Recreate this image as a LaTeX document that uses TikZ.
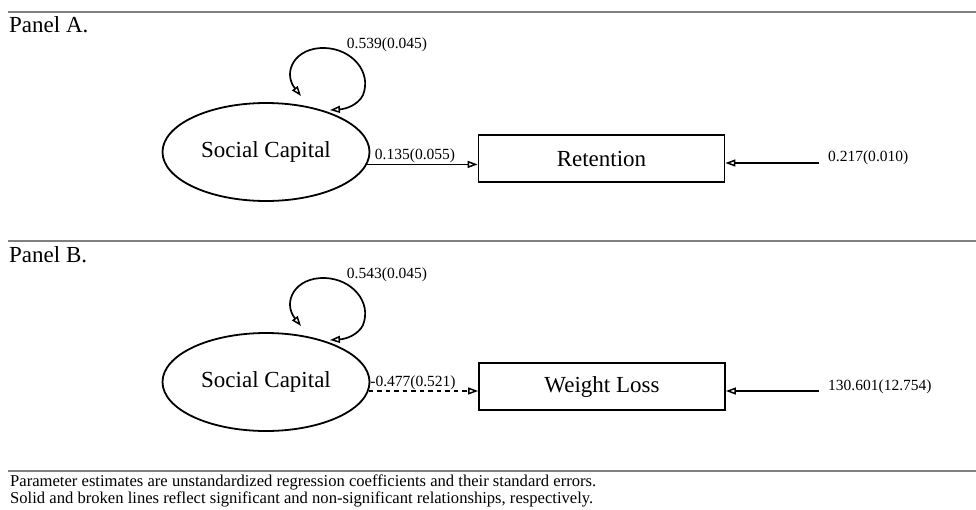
\documentclass[tikz,border=0pt]{standalone}
\usepackage{fontspec}
\setmainfont{Liberation Serif}
\usetikzlibrary{arrows.meta,shapes.geometric}
\begin{document}
\begin{tikzpicture}[x=1pt,y=-1pt,
  lat/.style={draw, line width=1.8pt, ellipse, minimum width=207pt, minimum height=98pt, inner sep=0pt, font=\fontsize{23}{27}\selectfont},
  obs/.style={draw, line width=1.8pt, rectangle, minimum width=246pt, minimum height=47pt, inner sep=0pt, font=\fontsize{23}{27}\selectfont},
  tip/.style={},
  conn/.style={line width=1.7pt, -{Triangle[open, length=10pt, width=7pt, line width=1.5pt]}},
  loopc/.style={line width=1.7pt, {Triangle[open, length=10pt, width=7pt, line width=1.5pt]}-{Triangle[open, length=10pt, width=7pt, line width=1.5pt]}},
  lbl/.style={inner sep=0pt, font=\fontsize{15.5}{18}\selectfont},
  pnl/.style={inner sep=0pt, anchor=west, font=\fontsize{23}{27}\selectfont},
  sep/.style={draw=black!50, line width=2pt},
  note/.style={inner sep=0pt, anchor=west, font=\fontsize{16.6}{19}\selectfont}
]
\useasboundingbox (0,0) rectangle (976,509);
% ---------- Panel A ----------
\coordinate (sepA1) at (8,12); \coordinate (sepA2) at (976,12);
\draw[sep] (sepA1) -- (sepA2);
\node[pnl] (pA) at (9,25) {Panel A.};
\node[lat] (scA) at (266,152) {Social Capital};
\node[obs] (rt) at (601.5,158.5) {Retention};
\coordinate (lA1) at (301,96);
\coordinate (lA2) at (330,110);
\draw[loopc] (lA1) .. controls (282,72) and (295,47) .. (325,48) .. controls (352,49) and (372,72) .. (363,95) .. controls (358,105) and (346,109) .. (lA2);
\node[lbl] (vA) at (387,45) {0.539(0.045)};
\draw[conn] (scA.-7) -- (scA.-7 -| rt.west);
\node[lbl] (bA) at (415,156) {0.135(0.055)};
\coordinate (eA) at (819,163);
\draw[conn] (eA) -- (eA -| rt.east);
\node[lbl, anchor=west] (eAl) at (828,158) {0.217(0.010)};
% ---------- Panel B ----------
\coordinate (sepB1) at (8,241); \coordinate (sepB2) at (976,241);
\draw[sep] (sepB1) -- (sepB2);
\node[pnl] (pB) at (9,255) {Panel B.};
\node[lat] (scB) at (266,382) {Social Capital};
\node[obs] (wl) at (602,386.5) {Weight Loss};
\coordinate (lB1) at (301,326);
\coordinate (lB2) at (330,340);
\draw[loopc] (lB1) .. controls (282,302) and (295,277) .. (325,278) .. controls (352,279) and (372,302) .. (363,325) .. controls (358,335) and (346,339) .. (lB2);
\node[lbl] (vB) at (387,275) {0.543(0.045)};
\draw[conn, dash pattern=on 4.5pt off 4pt] (scB.-5) -- (scB.-5 -| wl.west);
\node[lbl] (bB) at (413,383) {-0.477(0.521)};
\coordinate (eB) at (819,391);
\draw[conn] (eB) -- (eB -| wl.east);
\node[lbl, anchor=west] (eBl) at (828,387) {130.601(12.754)};
% ---------- Notes ----------
\coordinate (sepC1) at (8,471); \coordinate (sepC2) at (976,471);
\draw[sep] (sepC1) -- (sepC2);
\node[note] (n1) at (10,482) {Parameter estimates are unstandardized regression coefficients and their standard errors.};
\node[note] (n2) at (10,499) {Solid and broken lines reflect significant and non-significant relationships, respectively.};
\end{tikzpicture}
\end{document}
